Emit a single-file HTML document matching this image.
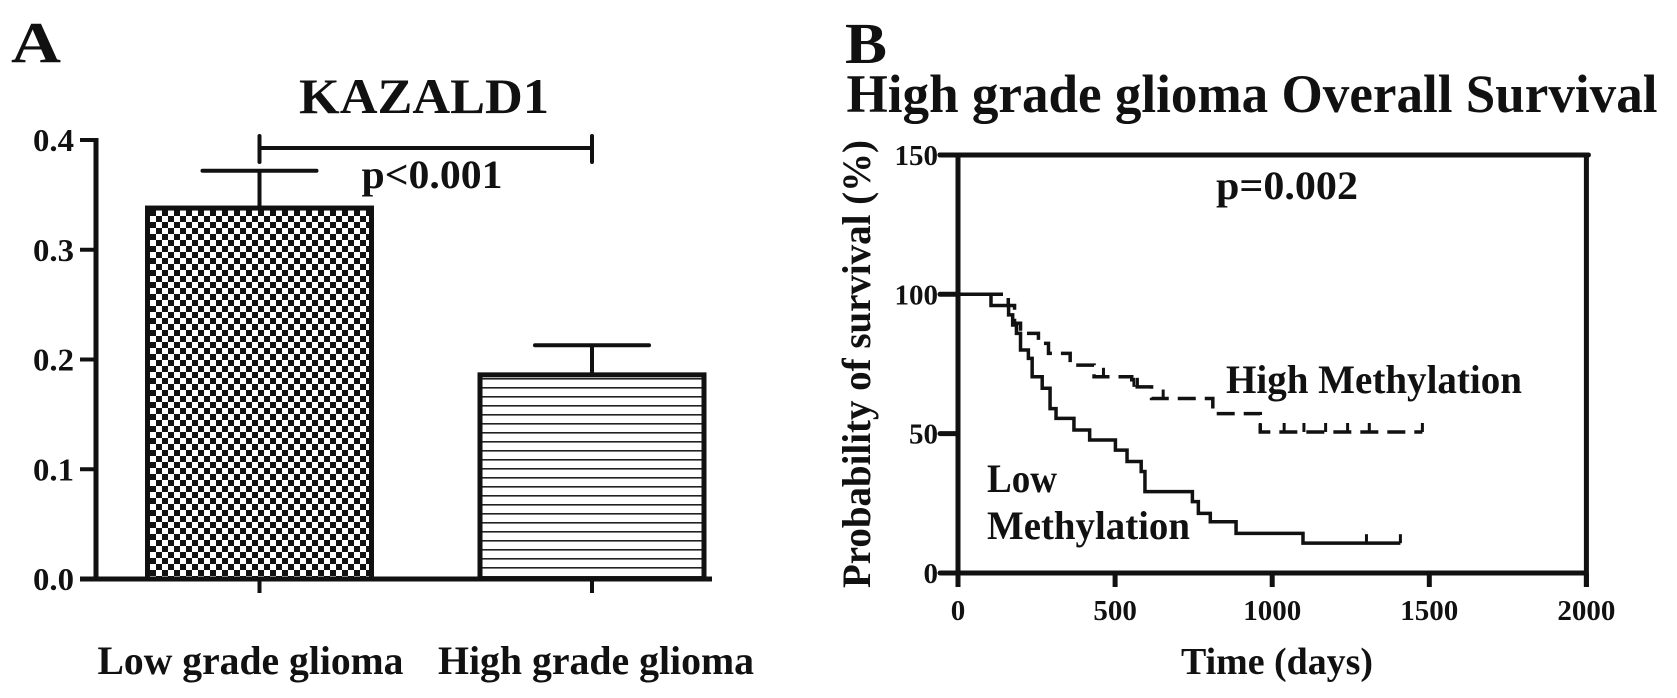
<!DOCTYPE html>
<html><head><meta charset="utf-8"><style>
html,body{margin:0;padding:0;background:#fff;}
svg{display:block;}
text{font-family:"Liberation Serif",serif;font-weight:bold;fill:#111;}
</style></head><body>
<svg id="fig" width="1677" height="698" viewBox="0 0 1677 698" xmlns="http://www.w3.org/2000/svg">
<defs>
<pattern id="checker" x="0" y="0" width="12" height="12" patternUnits="userSpaceOnUse">
<rect width="12" height="12" fill="#fff"/>
<rect x="0" y="0" width="6" height="6" fill="#111"/>
<rect x="6" y="6" width="6" height="6" fill="#111"/>
</pattern>
<pattern id="stripes" x="0" y="0" width="10" height="9" patternUnits="userSpaceOnUse">
<rect width="10" height="9" fill="#fff"/>
<rect x="0" y="0" width="10" height="1.6" fill="#222"/>
</pattern>
</defs>
<text x="11" y="62" font-size="58" textLength="50" lengthAdjust="spacingAndGlyphs">A</text>
<text x="424" y="113" font-size="50" text-anchor="middle" textLength="250" lengthAdjust="spacingAndGlyphs">KAZALD1</text>
<g id="barChart"></g>
<text x="845" y="63" font-size="58" textLength="42" lengthAdjust="spacingAndGlyphs">B</text>
<text x="1252" y="112" font-size="54" text-anchor="middle" textLength="811" lengthAdjust="spacingAndGlyphs">High grade glioma Overall Survival</text>
<g id="kmChart"></g>
</svg>
<script>
const barCategories = ["Low grade glioma", "High grade glioma"];
const barValues = [0.338, 0.186];
const barErrors = [0.034, 0.027];
const barYTicks = [0.0, 0.1, 0.2, 0.3, 0.4];
const barYTickLabels = ["0.0", "0.1", "0.2", "0.3", "0.4"];
const barPValue = "p<0.001";

const kmXTicks = [0, 500, 1000, 1500, 2000];
const kmYTicks = [0, 50, 100, 150];
const lowTimes = [0, 105, 161, 174, 186, 199, 224, 236, 268, 293, 312, 369, 419, 501, 538, 583, 595, 746, 765, 803, 885, 1098, 1408];
const lowSurv = [100, 96, 92.6, 89, 86, 80, 77, 70.4, 66.3, 59, 55.5, 51.3, 47.7, 44.1, 40, 36.4, 29.2, 25.6, 21.4, 18.4, 14.2, 10.7, 10.7];
const lowCensor = [1300, 1408];
const highTimes = [0, 160, 180, 199, 256, 288, 357, 433, 553, 616, 811, 962, 1478];
const highSurv = [100, 96, 89.6, 86, 82.4, 78.8, 74.6, 70.4, 66.8, 62.6, 57.2, 50.6, 50.6];
const highCensor = [463, 560, 571, 653, 962, 1038, 1101, 1170, 1240, 1309, 1478];
const kmPValue = "p=0.002";

const NS = "http://www.w3.org/2000/svg";
function mk(parent, tag, attrs, text) {
  const e = document.createElementNS(NS, tag);
  for (const k in attrs) e.setAttribute(k, attrs[k]);
  if (text !== undefined) e.textContent = text;
  parent.appendChild(e);
  return e;
}

// ---- Bar chart ----
(function () {
  const g = document.getElementById("barChart");
  const x0 = 96, y0 = 579, pxPerUnit = 1097.5;
  const yS = v => y0 - v * pxPerUnit;
  const centers = [259.5, 592];
  const halfW = 112;
  const fills = ["url(#checker)", "url(#stripes)"];
  let e;
  barValues.forEach((v, i) => {
    const cx = centers[i];
    e = mk(g, "line", {x1: cx, x2: cx, y1: yS(v), y2: yS(v + barErrors[i]), stroke: "#111", "stroke-width": 4});
    
    
    e = mk(g, "line", {x1: cx - 57, x2: cx + 57, y1: yS(v + barErrors[i]), y2: yS(v + barErrors[i]), stroke: "#111", "stroke-width": 4, "stroke-linecap": "round"});
    
    
    e = mk(g, "rect", {x: cx - halfW, y: yS(v), width: halfW * 2, height: y0 - yS(v), fill: fills[i], stroke: "#111", "stroke-width": 5});
    
    
    e = mk(g, "line", {x1: cx, x2: cx, y1: y0, y2: y0 + 14, stroke: "#111", "stroke-width": 4});
    
    
    e = mk(g, "text", {x: cx - (i === 0 ? 9 : -4), y: 674, "font-size": 40, "text-anchor": "middle", textLength: i === 0 ? 306 : 316, lengthAdjust: "spacingAndGlyphs"}, barCategories[i]);
    
    
  });
  e = mk(g, "line", {x1: x0, x2: x0, y1: yS(0.4) - 2, y2: y0 + 2, stroke: "#111", "stroke-width": 5});
  
  
  e = mk(g, "line", {x1: 80, x2: 712, y1: y0, y2: y0, stroke: "#111", "stroke-width": 5});
  
  
  barYTicks.forEach((t, i) => {
    e = mk(g, "line", {x1: 80, x2: x0, y1: yS(t), y2: yS(t), stroke: "#111", "stroke-width": 4});
    
    
    e = mk(g, "text", {x: 74, y: yS(t) + 11, "font-size": 32, "text-anchor": "end", textLength: 41, lengthAdjust: "spacingAndGlyphs"}, barYTickLabels[i]);
    
    
  });
  e = mk(g, "line", {x1: centers[0], x2: centers[1], y1: 148, y2: 148, stroke: "#111", "stroke-width": 4});
  
  
  centers.forEach(cx => {
    e = mk(g, "line", {x1: cx, x2: cx, y1: 136, y2: 162, stroke: "#111", "stroke-width": 4, "stroke-linecap": "round"});
    
    
  });
  e = mk(g, "text", {x: 432, y: 188, "font-size": 40, "text-anchor": "middle", textLength: 141, lengthAdjust: "spacingAndGlyphs"}, barPValue);
  
  
})();

// ---- KM chart ----
(function () {
  const g = document.getElementById("kmChart");
  const X0 = 958, Y0 = 573, pxT = 0.3142, pxV = 2.787;
  const xS = t => X0 + t * pxT;
  const yS = v => Y0 - v * pxV;
  let e;
  e = mk(g, "line", {x1: X0, x2: X0, y1: yS(150) - 2, y2: Y0 + 14, stroke: "#111", "stroke-width": 5});
  
  
  e = mk(g, "line", {x1: X0 - 18, x2: xS(2000) + 2, y1: Y0, y2: Y0, stroke: "#111", "stroke-width": 5});
  
  
  e = mk(g, "line", {x1: X0 - 18, x2: xS(2000) + 2, y1: yS(150), y2: yS(150), stroke: "#111", "stroke-width": 5, "stroke-linecap": "round"});
  
  
  e = mk(g, "line", {x1: xS(2000), x2: xS(2000), y1: yS(150), y2: Y0 + 14, stroke: "#111", "stroke-width": 5});
  
  
  kmXTicks.forEach(t => {
    e = mk(g, "line", {x1: xS(t), x2: xS(t), y1: Y0, y2: Y0 + 14, stroke: "#111", "stroke-width": 5});
    
    
    e = mk(g, "text", {x: xS(t), y: 620, "font-size": 29, "text-anchor": "middle"}, String(t));
    
    
  });
  kmYTicks.forEach(v => {
    e = mk(g, "line", {x1: X0 - 18, x2: X0, y1: yS(v), y2: yS(v), stroke: "#111", "stroke-width": 5, "stroke-linecap": "round"});
    
    
    e = mk(g, "text", {x: 938, y: yS(v) + 10, "font-size": 29, "text-anchor": "end"}, String(v));
    
    
  });
  function stepPath(ts, vs) {
    let d = "M" + xS(ts[0]) + " " + yS(vs[0]);
    for (let i = 1; i < ts.length; i++) {
      d += " H" + xS(ts[i]) + " V" + yS(vs[i]);
    }
    return d;
  }
  function survAt(ts, vs, t) {
    let v = vs[0];
    for (let i = 0; i < ts.length; i++) if (ts[i] <= t) v = vs[i];
    return v;
  }
  e = mk(g, "path", {d: stepPath(lowTimes, lowSurv), fill: "none", stroke: "#111", "stroke-width": 3.5});
  
  
  lowCensor.forEach(t => {
    const y = yS(survAt(lowTimes, lowSurv, t));
    e = mk(g, "line", {x1: xS(t), x2: xS(t), y1: y - 9, y2: y, stroke: "#111", "stroke-width": 3});
    
    
  });
  e = mk(g, "path", {d: stepPath(highTimes, highSurv), fill: "none", stroke: "#111", "stroke-width": 3.5, "stroke-dasharray": "18 9"});
  
  
  highCensor.forEach(t => {
    const y = yS(survAt(highTimes, highSurv, t));
    e = mk(g, "line", {x1: xS(t), x2: xS(t), y1: y - 9, y2: y, stroke: "#111", "stroke-width": 3});
    
    
  });
  e = mk(g, "text", {x: 1287, y: 199, "font-size": 40, "text-anchor": "middle", textLength: 142, lengthAdjust: "spacingAndGlyphs"}, kmPValue);
  
  
  e = mk(g, "text", {x: 1226, y: 393, "font-size": 40, textLength: 296, lengthAdjust: "spacingAndGlyphs"}, "High Methylation");
  
  
  e = mk(g, "text", {x: 987, y: 492, "font-size": 40, textLength: 70, lengthAdjust: "spacingAndGlyphs"}, "Low");
  
  
  e = mk(g, "text", {x: 987, y: 539, "font-size": 40, textLength: 203, lengthAdjust: "spacingAndGlyphs"}, "Methylation");
  
  
  e = mk(g, "text", {x: 1277, y: 674, "font-size": 38, "text-anchor": "middle", textLength: 192, lengthAdjust: "spacingAndGlyphs"}, "Time (days)");
  
  
  e = mk(g, "text", {x: 0, y: 0, "font-size": 40, "text-anchor": "middle", textLength: 448, lengthAdjust: "spacingAndGlyphs", transform: "translate(870,364) rotate(-90)"}, "Probability of survival (%)");
  
  
})();
</script>
</body></html>
